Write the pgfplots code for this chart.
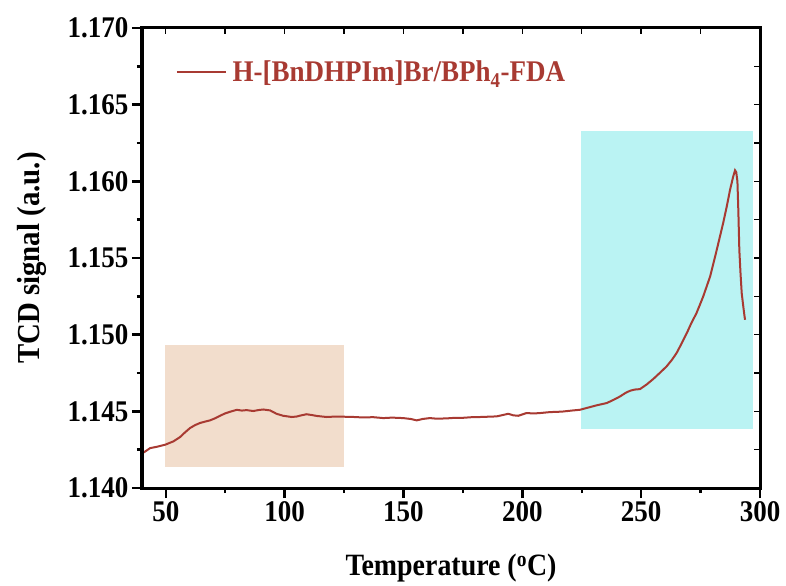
\documentclass[border=0pt]{standalone}
\usepackage{fontspec}
\setmainfont{Liberation Serif}[FakeStretch=0.9]
\usepackage{pgfplots}
\pgfplotsset{compat=1.18}
\definecolor{curve}{RGB}{168,58,50}
\definecolor{beigebox}{RGB}{242,221,204}
\definecolor{cyanbox}{RGB}{186,243,243}
\begin{document}
\begin{tikzpicture}
\begin{axis}[
  scale only axis, width=618pt, height=460pt,
  xmin=40, xmax=300, ymin=1.140, ymax=1.170,
  xtick={50,100,150,200,250,300},
  minor xtick={75,125,175,225,275},
  ytick={1.140,1.145,1.150,1.155,1.160,1.165,1.170},
  minor ytick={1.1425,1.1475,1.1525,1.1575,1.1625,1.1675},
  xtick pos=left, ytick pos=left,
  tick align=outside,
  major tick length=10pt, minor tick length=5pt,
  axis line style={line width=3pt},
  every tick/.style={line width=2.4pt, black},
  tick label style={font=\fontsize{30}{32}\selectfont\bfseries},
  /pgf/number format/assume math mode=true,
  yticklabel style={/pgf/number format/.cd, fixed, fixed zerofill, precision=3},
  scaled y ticks=false,
  xlabel={Temperature (\textsuperscript{o}C)},
  ylabel={TCD signal (a.u.)},
  xlabel style={font=\fontsize{31}{33}\selectfont\bfseries, at={(axis description cs:0.5,-0.174)}, anchor=center},
  ylabel style={font=\fontsize{32}{34}\selectfont\bfseries, at={(axis description cs:-0.178,0.5)}, anchor=center},
  legend style={draw=none, fill=none, at={(axis description cs:0.05,0.904)}, anchor=west,
    font=\fontsize{30}{32}\selectfont\bfseries, text=curve},
  legend cell align=left,
  legend image code/.code={\draw[curve, line width=1.6pt] (0pt,0pt) -- (49pt,0pt);},
  clip=false,
]
\fill[beigebox] (axis cs:49.7,1.1414) rectangle (axis cs:125.1,1.1493);
\fill[cyanbox] (axis cs:224.7,1.14385) rectangle (axis cs:297.2,1.16331);
\addplot[curve, line width=2pt] coordinates {
(40,1.14225) (41.5,1.14240) (43.4,1.14260) (46,1.14268) (49.7,1.14282)
(53.2,1.14304) (56.0,1.14332) (57.9,1.14360) (60.2,1.14391) (62.3,1.14410)
(64.4,1.14424) (66.3,1.14432) (68.6,1.14441) (70.8,1.14455) (72.8,1.14471)
(74.9,1.14486) (77.0,1.14497) (79.9,1.14510) (82.0,1.14505) (84.0,1.14508)
(86.8,1.14502) (88.9,1.14508) (91.0,1.14512) (93.9,1.14506) (96.6,1.14484)
(99.4,1.14471) (103.0,1.14463) (105.0,1.14466) (106.5,1.14472) (109.2,1.14481)
(111.4,1.14476) (113.5,1.14470) (117.7,1.14463) (121.3,1.14466) (124.7,1.14465)
(129.3,1.14463) (133.1,1.14460) (137.2,1.14462) (141.5,1.14456) (145.2,1.14459)
(149.9,1.14456) (153.1,1.14450) (155.6,1.14441) (158.0,1.14450) (161.1,1.14456)
(164.0,1.14452) (168.2,1.14454) (171.0,1.14457) (175.2,1.14458) (178.9,1.14462)
(182.2,1.14463) (185.8,1.14465) (189.2,1.14467) (191.8,1.14476) (194.1,1.14484)
(196.2,1.14474) (198.3,1.14471) (201.8,1.14489) (204.7,1.14486) (207.6,1.14489)
(211.6,1.14495) (216.6,1.14498) (221.4,1.14506) (224.2,1.14510) (227.1,1.14522)
(231.5,1.14540) (235.5,1.14554) (238.4,1.14575) (241.1,1.14597) (243.4,1.14620)
(245.3,1.14634) (247.3,1.14642) (249.5,1.14645) (252.3,1.14675) (255.1,1.14711)
(257.8,1.14750) (260.7,1.14793) (262.9,1.14835) (264.9,1.14880) (267.1,1.14945)
(269.2,1.15010) (271.1,1.15075) (273.3,1.15141) (276.1,1.15249) (279.0,1.15379)
(281.8,1.15553) (284.5,1.15728) (286.0,1.15835) (287.4,1.15945) (288.7,1.16030)
(289.5,1.16072) (290.0,1.16060) (290.5,1.16000) (290.9,1.15800) (291.3,1.15553)
(291.8,1.15400) (292.3,1.15271) (293.0,1.15180) (293.4,1.15130) (293.7,1.15097)
};
\addlegendentry{\hspace{4pt}H-[BnDHPIm]Br/BPh\textsubscript{4}-FDA}
\end{axis}
\begin{axis}[
  scale only axis, width=618pt, height=460pt,
  xmin=40, xmax=300, ymin=1.140, ymax=1.170,
  xtick={50,100,150,200,250,300},
  minor xtick={75,125,175,225,275},
  ytick={1.140,1.145,1.150,1.155,1.160,1.165,1.170},
  minor ytick={1.1425,1.1475,1.1525,1.1575,1.1625,1.1675},
  xtick pos=right, ytick pos=right,
  tick align=inside,
  major tick length=6pt, minor tick length=6pt,
  axis line style={line width=3pt},
  every tick/.style={line width=1.4pt, black},
  xticklabels={}, yticklabels={},
]
\end{axis}
\path ([shift={(-142pt,-97pt)}]current axis.south west) rectangle ([shift={(26pt,28pt)}]current axis.north east);
\end{tikzpicture}
\end{document}
